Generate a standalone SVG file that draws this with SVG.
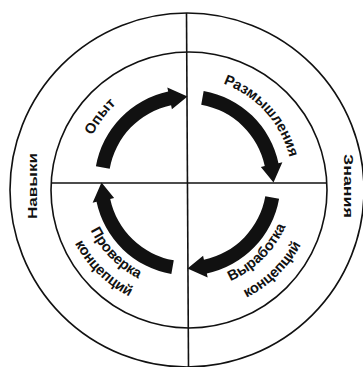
<svg xmlns="http://www.w3.org/2000/svg" xmlns:xlink="http://www.w3.org/1999/xlink" width="363" height="367" viewBox="0 0 363 367">
<style>
.ln{fill:none;stroke:#111;stroke-width:1.6}
.lbl{font-family:"Liberation Sans",Arial,sans-serif;font-weight:bold;font-size:14.5px;fill:#111}
.side{font-family:"Liberation Sans",Arial,sans-serif;font-weight:bold;font-size:12px;fill:#111}
.arr{fill:#111}
</style>
<defs>
<path id="arrow" d="M-91.59,-16.15 A93,93 0 0 1 -19.34,-90.97 L-20.17,-94.88 L0,-86 L-15.59,-73.36 L-16.42,-77.27 A79,79 0 0 0 -77.80,-13.72 Z"/>
<path id="pOpyt" d="M82.53,197.25 A106,106 0 0 1 172.75,77.53"/>
<path id="pRazm" d="M192.99,77.64 A105,105 0 0 1 292.36,187.99"/>
<path id="pProv" d="M79.5,181.75 A108,108 0 0 0 186.75,290.5"/>
<path id="pKonL" d="M59.51,184.05 A128,128 0 0 0 189.05,310.49"/>
<path id="pVyr" d="M187.12,290 A107.5,107.5 0 0 0 295,182.88"/>
<path id="pKonR" d="M185.71,311.99 A129.5,129.5 0 0 0 317,184.29"/>
</defs>
<rect width="363" height="367" fill="#fff"/>
<g id="frame">
<circle class="ln" cx="187" cy="190" r="177"/>
<circle class="ln" cx="189" cy="190" r="138"/>
<line class="ln" x1="186.5" y1="13" x2="188.5" y2="367"/>
<line class="ln" x1="51" y1="183" x2="327" y2="183"/>
</g>
<g id="connectors">
<use xlink:href="#arrow" class="arr" transform="translate(187.5,182.5)"/>
<use xlink:href="#arrow" class="arr" transform="translate(187.5,182.5) rotate(90)"/>
<use xlink:href="#arrow" class="arr" transform="translate(187.5,182.5) rotate(180)"/>
<use xlink:href="#arrow" class="arr" transform="translate(187.5,182.5) rotate(270)"/>
</g>
<g id="node-opyt"><text class="lbl"><textPath xlink:href="#pOpyt" startOffset="50%" text-anchor="middle">Опыт</textPath></text></g>
<g id="node-razmyshleniya"><text class="lbl"><textPath xlink:href="#pRazm" startOffset="50%" text-anchor="middle">Размышления</textPath></text></g>
<g id="node-vyrabotka"><text class="lbl"><textPath xlink:href="#pVyr" startOffset="50%" text-anchor="middle">Выработка</textPath></text><text class="lbl"><textPath xlink:href="#pKonR" startOffset="50%" text-anchor="middle">концепций</textPath></text></g>
<g id="node-proverka"><text class="lbl"><textPath xlink:href="#pProv" startOffset="50%" text-anchor="middle">Проверка</textPath></text><text class="lbl"><textPath xlink:href="#pKonL" startOffset="50%" text-anchor="middle">концепций</textPath></text></g>
<g id="node-navyki"><text class="side" transform="translate(32.5,186) rotate(-90)" y="4.3" text-anchor="middle" textLength="66" lengthAdjust="spacingAndGlyphs">Навыки</text></g>
<g id="node-znaniya"><text class="side" transform="translate(348,186) rotate(90)" y="4.3" text-anchor="middle" textLength="64" lengthAdjust="spacingAndGlyphs">Знания</text></g>
</svg>
